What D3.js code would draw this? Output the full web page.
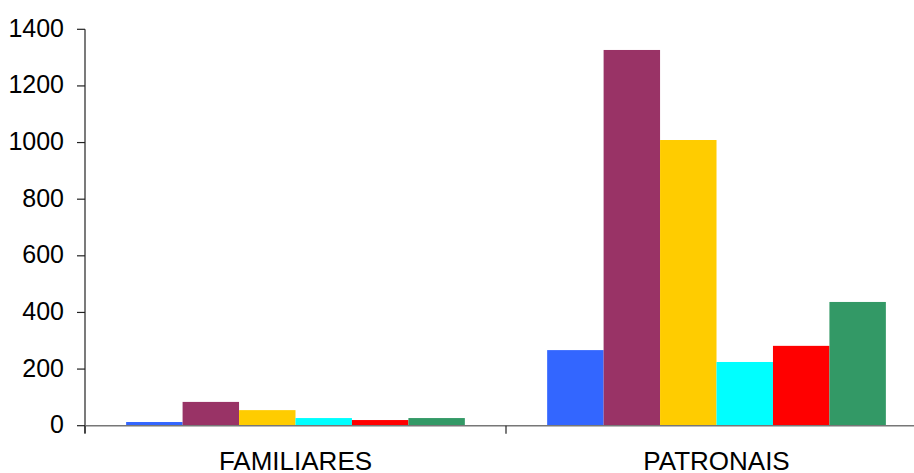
<!DOCTYPE html>
<html>
<head>
<meta charset="utf-8">
<script src="https://cdn.jsdelivr.net/npm/d3@7"></script>
<style>
  html, body { margin: 0; padding: 0; background: #fff; }
  svg { display: block; }
  text { font-family: "Liberation Sans", Arial, sans-serif; fill: #000; }
</style>
</head>
<body>
<svg id="chart" width="914" height="473"></svg>
<script>
// Categories and series
const categories = ["FAMILIARES", "PATRONAIS"];
const seriesNames = ["S1", "S2", "S3", "S4", "S5", "S6"];
const seriesColors = ["#3366FF", "#993366", "#FFCC00", "#00FFFF", "#FF0000", "#339966"];
const familiares = [13, 84, 55, 27, 20, 27];
const patronais = [267, 1327, 1009, 225, 282, 437];
const yTicks = [0, 200, 400, 600, 800, 1000, 1200, 1400];

const values = [familiares, patronais];

const svg = d3.select("#chart");
const plotLeft = 85, plotRight = 927, plotTop = 29.3, plotBottom = 425.7;

const x = d3.scaleBand().domain(categories).range([plotLeft, plotRight])
  .paddingInner(0.1955).paddingOuter(0.0977);
const xs = d3.scaleBand().domain(seriesNames).range([0, x.bandwidth()]);
const y = d3.scaleLinear().domain([0, 1400]).range([plotBottom, plotTop]);

// Bars
const groups = svg.selectAll("g.cat").data(categories).join("g")
  .attr("class", "cat")
  .attr("transform", d => `translate(${x(d)},0)`);

groups.selectAll("rect").data((d, i) => values[i].map((v, j) => ({ v, s: seriesNames[j], c: seriesColors[j] })))
  .join("rect")
  .attr("x", d => xs(d.s))
  .attr("width", xs.bandwidth())
  .attr("y", d => y(d.v))
  .attr("height", d => y(0) - y(d.v))
  .attr("fill", d => d.c);

// Y axis
const yAxis = svg.append("g").attr("transform", `translate(${plotLeft},0)`);
yAxis.append("line")
  .attr("x1", 0).attr("x2", 0).attr("y1", y(1400)).attr("y2", y(0) + 7.5)
  .attr("stroke", "#222").attr("stroke-width", 1.2);
yAxis.selectAll("line.tick").data(yTicks).join("line")
  .attr("class", "tick")
  .attr("x1", -8).attr("x2", 0)
  .attr("y1", d => y(d)).attr("y2", d => y(d))
  .attr("stroke", "#222").attr("stroke-width", 1.2);
yAxis.selectAll("text").data(yTicks).join("text")
  .attr("x", -21).attr("y", d => y(d) + 7.5)
  .attr("text-anchor", "end")
  .attr("font-size", 25)
  .text(d => d);

// X axis
const step = x.step();
const offset = (step - x.bandwidth()) / 2;
const boundaries = categories.map(c => x(c) - offset).concat([x(categories[categories.length - 1]) - offset + step]);
svg.append("line")
  .attr("x1", plotLeft).attr("x2", 914)
  .attr("y1", y(0)).attr("y2", y(0))
  .attr("stroke", "#777").attr("stroke-width", 1.6);
svg.selectAll("line.xtick").data(boundaries).join("line")
  .attr("class", "xtick")
  .attr("x1", d => d).attr("x2", d => d)
  .attr("y1", y(0)).attr("y2", y(0) + 8)
  .attr("stroke", "#222").attr("stroke-width", 1.2);
svg.selectAll("text.cat").data(categories).join("text")
  .attr("class", "cat")
  .attr("x", d => x(d) + x.bandwidth() / 2)
  .attr("y", 470)
  .attr("text-anchor", "middle")
  .attr("font-size", 26)
  .text(d => d);
</script>
</body>
</html>
